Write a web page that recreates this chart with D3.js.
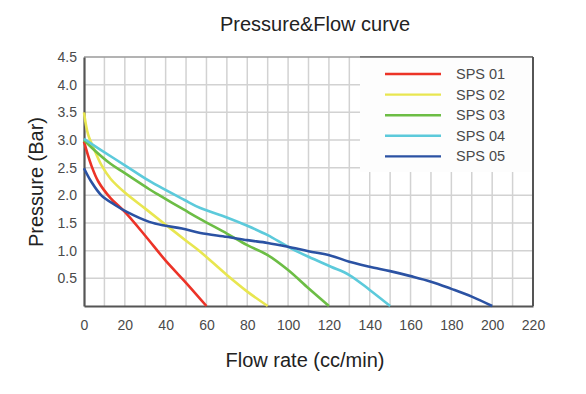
<!DOCTYPE html>
<html>
<head>
<meta charset="utf-8">
<script src="https://cdn.jsdelivr.net/npm/d3@7"></script>
<style>
    body { margin: 0; background: #fff; }
    svg text { font-family: "Liberation Sans", Arial, Helvetica, sans-serif; }
</style>
</head>
<body>
<svg id="chart" width="586" height="394"></svg>
<script>
/*
 Pressure & Flow curve -- five SPS pump curves.
 */

var seriesNames = ['SPS 01', 'SPS 02', 'SPS 03', 'SPS 04', 'SPS 05'];
var seriesColors = ['#ec3327', '#e8e650', '#6cbd45', '#5ccadb', '#2b52a3'];

var flow01 = [0, 3.5, 7, 13, 20, 30, 40, 50, 60];
var bar01 = [2.97, 2.55, 2.25, 1.95, 1.7, 1.27, 0.82, 0.42, 0];

var flow02 = [0, 2, 5, 8.5, 13, 20, 30, 40, 50, 57, 70, 80, 90];
var bar02 = [3.5, 3.1, 2.83, 2.55, 2.3, 2.05, 1.76, 1.47, 1.18, 0.98, 0.56, 0.26, 0];

var flow03 = [0, 5, 13, 20, 32, 36, 49, 57, 70, 80, 90, 100, 110, 120];
var bar03 = [3.0, 2.82, 2.57, 2.4, 2.11, 2.02, 1.74, 1.57, 1.31, 1.1, 0.92, 0.65, 0.32, 0];

var flow04 = [0, 7, 21, 32, 49, 57, 70, 80, 90, 100, 110, 121, 130, 140, 150];
var bar04 = [3.02, 2.85, 2.52, 2.26, 1.92, 1.77, 1.6, 1.45, 1.28, 1.07, 0.89, 0.71, 0.56, 0.29, 0];

var flow05 = [0, 3.5, 8.5, 15, 21, 32, 40, 48, 57, 70, 80, 90, 100, 110, 121, 130, 140, 150, 160, 170, 180, 190, 200];
var bar05 = [2.49, 2.25, 2.0, 1.83, 1.7, 1.52, 1.45, 1.4, 1.32, 1.25, 1.19, 1.14, 1.07, 0.99, 0.91, 0.8, 0.71, 0.63, 0.54, 0.44, 0.31, 0.17, 0];

var xTicks = [0, 20, 40, 60, 80, 100, 120, 140, 160, 180, 200, 220];
var yTicks = [0.5, 1.0, 1.5, 2.0, 2.5, 3.0, 3.5, 4.0, 4.5];

(function () {
    'use strict';

    var svg = d3.select('#chart'),
        left = 84, right = 533, top = 57, bottom = 306;

    var x = d3.scaleLinear().domain([0, 220]).range([left, right]),
        y = d3.scaleLinear().domain([0, 4.5]).range([bottom, top]);

    var flows = [flow01, flow02, flow03, flow04, flow05],
        bars = [bar01, bar02, bar03, bar04, bar05];

    // grid
    var grid = svg.append('g').attr('class', 'grid');
    d3.range(10, 220, 10).forEach(function (v) {
        grid.append('line')
            .attr('x1', x(v)).attr('x2', x(v))
            .attr('y1', top).attr('y2', bottom)
            .style('stroke', '#d2d2d2')
            .style('stroke-width', 1.5);
    });
    yTicks.forEach(function (v) {
        grid.append('line')
            .attr('x1', left).attr('x2', right)
            .attr('y1', y(v)).attr('y2', y(v))
            .style('stroke', v === 4.5 ? '#9a9a9a' : '#d2d2d2')
            .style('stroke-width', 1.5);
    });

    // axes
    var xAxis = svg.append('g')
        .attr('transform', 'translate(0,' + bottom + ')')
        .call(d3.axisBottom(x).tickValues(xTicks).tickSize(0).tickPadding(14));
    var yAxis = svg.append('g')
        .attr('transform', 'translate(' + left + ',0)')
        .call(d3.axisLeft(y).tickValues(yTicks).tickSize(0).tickPadding(7)
            .tickFormat(d3.format('.1f')));

    [xAxis, yAxis].forEach(function (ax) {
        ax.select('.domain').style('stroke', '#555').style('stroke-width', 2.2);
        ax.selectAll('text')
            .style('font-size', '14px')
            .style('fill', '#4a4a4a');
    });

    // legend box (covers the grid in the top right corner)
    var legend = svg.append('g');
    legend.append('rect')
        .attr('x', 360).attr('y', top)
        .attr('width', right - 360).attr('height', 115)
        .style('fill', '#fdfdfd');
    legend.append('line')
        .attr('x1', 360).attr('x2', right)
        .attr('y1', top).attr('y2', top)
        .style('stroke', '#666').style('stroke-width', 1.5);

    // right frame
    svg.append('line')
        .attr('x1', right).attr('x2', right)
        .attr('y1', top).attr('y2', bottom)
        .style('stroke', '#555').style('stroke-width', 2);

    // curves
    var line = d3.line()
        .x(function (d) { return x(d[0]); })
        .y(function (d) { return y(d[1]); })
        .curve(d3.curveCatmullRom.alpha(0.5));

    seriesNames.forEach(function (name, i) {
        var pts = flows[i].map(function (f, k) { return [f, bars[i][k]]; });
        svg.append('path')
            .datum(pts)
            .attr('d', line)
            .style('fill', 'none')
            .style('stroke', seriesColors[i])
            .style('stroke-width', 2.6);

        var ly = 74 + i * 20.6;
        legend.append('line')
            .attr('x1', 385).attr('x2', 441)
            .attr('y1', ly).attr('y2', ly)
            .style('stroke', seriesColors[i])
            .style('stroke-width', 2.4);
        legend.append('text')
            .attr('x', 456).attr('y', ly + 5)
            .style('font-size', '14.5px')
            .style('fill', '#4a4a4a')
            .text(name);
    });

    // titles
    svg.append('text')
        .attr('x', 315).attr('y', 31)
        .attr('text-anchor', 'middle')
        .style('font-size', '20px')
        .style('fill', '#222')
        .text('Pressure&Flow curve');

    svg.append('text')
        .attr('x', 305).attr('y', 367)
        .attr('text-anchor', 'middle')
        .style('font-size', '20px')
        .style('fill', '#222')
        .text('Flow rate (cc/min)');

    svg.append('text')
        .attr('transform', 'translate(43,182) rotate(-90)')
        .attr('text-anchor', 'middle')
        .style('font-size', '20px')
        .style('fill', '#222')
        .text('Pressure (Bar)');
})();
</script>
</body>
</html>
